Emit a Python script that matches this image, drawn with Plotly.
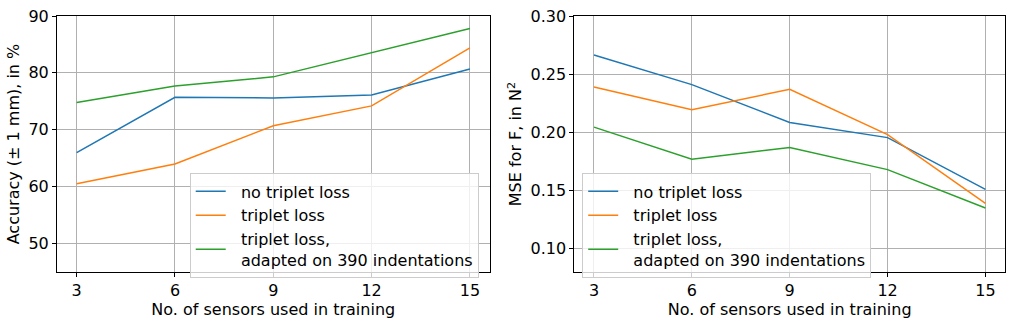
import plotly.graph_objects as go
from plotly.subplots import make_subplots

sensors = [3, 6, 9, 12, 15]

acc_no_triplet = [66.0, 75.7, 75.6, 76.1, 80.7]
acc_triplet = [60.5, 64.0, 70.7, 74.2, 84.4]
acc_adapted = [74.8, 77.7, 79.3, 83.5, 87.8]

mse_no_triplet = [0.2665, 0.241, 0.2085, 0.1955, 0.151]
mse_triplet = [0.239, 0.2195, 0.237, 0.198, 0.139]
mse_adapted = [0.2045, 0.177, 0.187, 0.168, 0.135]

# small non-breaking pad widens the gap between legend line and text
pad = "\u00a0\u00a0"
names = [pad + "no triplet loss", pad + "triplet loss",
         pad + "triplet loss,<br>" + pad + "adapted on 390 indentations"]
colors = ["#1f77b4", "#ff7f0e", "#2ca02c"]

FONT = dict(family="DejaVu Sans, sans-serif", size=16, color="black")

fig = make_subplots(rows=1, cols=2, horizontal_spacing=0.09)

for name, color, ys in zip(names, colors, [acc_no_triplet, acc_triplet, acc_adapted]):
    fig.add_trace(go.Scatter(x=sensors, y=ys, mode="lines", name=name,
                             line=dict(color=color, width=1.5), legend="legend"),
                  row=1, col=1)

for name, color, ys in zip(names, colors, [mse_no_triplet, mse_triplet, mse_adapted]):
    fig.add_trace(go.Scatter(x=sensors, y=ys, mode="lines", name=name,
                             line=dict(color=color, width=1.5), legend="legend2"),
                  row=1, col=2)

axis_style = dict(
    showline=True, linecolor="black", linewidth=1, mirror=True,
    showgrid=True, gridcolor="#b0b0b0", gridwidth=0.8,
    ticks="outside", ticklen=4, tickcolor="black",
    zeroline=False, tickfont=FONT, ticklabeloverflow="allow",
)
fig.update_xaxes(**axis_style, tickvals=sensors, range=[2.4, 15.6],
                 title=dict(text="No. of sensors used in training", font=FONT, standoff=4))
fig.update_yaxes(**axis_style)
fig.update_yaxes(range=[45, 90], tickvals=[50, 60, 70, 80, 90],
                 title=dict(text="Accuracy (± 1 mm), in %", font=FONT, standoff=4), row=1, col=1)
fig.update_yaxes(range=[0.08, 0.30], tickvals=[0.10, 0.15, 0.20, 0.25, 0.30], tickformat=".2f",
                 title=dict(text="MSE for F, in N<sup>2</sup>", font=FONT, standoff=4), row=1, col=2)

fig.update_layout(
    xaxis=dict(domain=[0, 0.4563]),
    xaxis2=dict(domain=[0.5458, 1.0]),
    width=1013, height=322,
    margin=dict(l=57, r=7, t=14, b=48),
    paper_bgcolor="white", plot_bgcolor="white",
    font=FONT,
    legend=dict(x=0.14, y=0.385, xanchor="left", yanchor="top",
                bgcolor="rgba(255,255,255,0.8)", bordercolor="#cccccc", borderwidth=1,
                font=FONT, tracegroupgap=0),
    legend2=dict(x=0.554, y=0.385, xanchor="left", yanchor="top",
                 bgcolor="rgba(255,255,255,0.8)", bordercolor="#cccccc", borderwidth=1,
                 font=FONT, tracegroupgap=0),
)

# drop the default 8px page margin so the figure sits at the window's corner
fig.write_html("out.html", config={"displayModeBar": False},
               post_script="document.body.style.margin = '0';")
